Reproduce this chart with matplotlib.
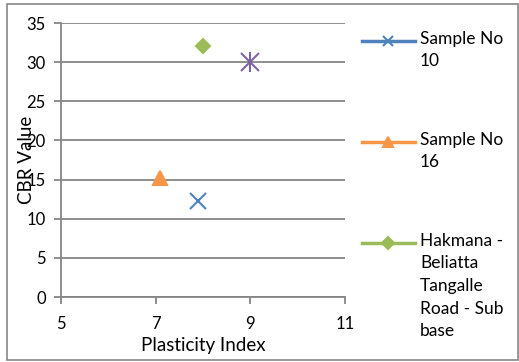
import matplotlib
matplotlib.use("Agg")
import matplotlib.pyplot as plt
from matplotlib.lines import Line2D
from matplotlib.patches import Rectangle

plt.rcParams['font.family'] = ['Lato', 'DejaVu Sans']

# data
series_names = ["Sample No\n10", "Sample No\n16",
                "Hakmana -\nBeliatta\nTangalle\nRoad - Sub\nbase", None]
plasticity = [7.9, 7.1, 8.0, 9.0]
cbr = [12.2, 15.2, 32.0, 30.0]
colors = ["#4F81BD", "#F79646", "#9BBB59", "#8064A2"]
markers = ["x", "^", "D", "x"]
msizes = [11, 10, 7, 13]

x_ticks = [5, 7, 9, 11]
y_ticks = [0, 5, 10, 15, 20, 25, 30, 35]

W, H = 519, 362
fig = plt.figure(figsize=(W / 100, H / 100), dpi=100)
ax = fig.add_axes([61 / W, 1 - 297 / H, (345 - 61) / W, (297 - 23) / H])

for i in range(len(plasticity)):
    ax.plot(plasticity[i], cbr[i], linestyle="none", marker=markers[i],
            color=colors[i], markersize=msizes[i], markeredgewidth=1.5, zorder=3)
    if i == 3:
        # excel "star" marker: x with a vertical bar
        ax.plot(plasticity[i], cbr[i], linestyle="none", marker="|",
                color=colors[i], markersize=msizes[i] + 2, markeredgewidth=1.5, zorder=3)

ax.set_xlim(x_ticks[0], x_ticks[-1])
ax.set_ylim(y_ticks[0], y_ticks[-1])
ax.set_xticks(x_ticks)
ax.set_yticks(y_ticks)
ax.yaxis.grid(True, color="#868686", linewidth=1.3)
ax.set_axisbelow(True)
for s in ["top", "right"]:
    ax.spines[s].set_visible(False)
for s in ["left", "bottom"]:
    ax.spines[s].set_color("#868686")
    ax.spines[s].set_linewidth(1.3)
ax.tick_params(axis="both", colors="#868686", labelcolor="black", length=5,
               width=1.3, labelsize=12, direction="out")
ax.tick_params(axis="x", pad=9)
ax.tick_params(axis="y", pad=6)
ax.set_xlabel("Plasticity Index", fontsize=13.5, labelpad=3)
# the y label sits over the tick labels, as in the original
ax.set_ylabel("CBR Value", fontsize=13.5)
ax.yaxis.set_label_coords(-0.09, 0.5)

# legend (first three series only, the fourth is cut off in the original)
for i in range(3):
    yc = 1 - (41 + 101 * i) / H
    fig.add_artist(Line2D([362 / W, 415 / W], [yc, yc], color=colors[i], linewidth=2.5))
    fig.add_artist(Line2D([388 / W], [yc], color=colors[i], marker=markers[i],
                          markersize=7 if markers[i] != "D" else 6, markeredgewidth=1.5))
    fig.text(420 / W, yc + 10 / H, series_names[i], fontsize=12.5, va="top",
             ha="left", linespacing=1.5)

fig.add_artist(Rectangle((7 / W, 2 / H), 511 / W, 356 / H, fill=False,
                         edgecolor="#868686", linewidth=1.2, transform=fig.transFigure))

fig.savefig("out.png", dpi=100)
